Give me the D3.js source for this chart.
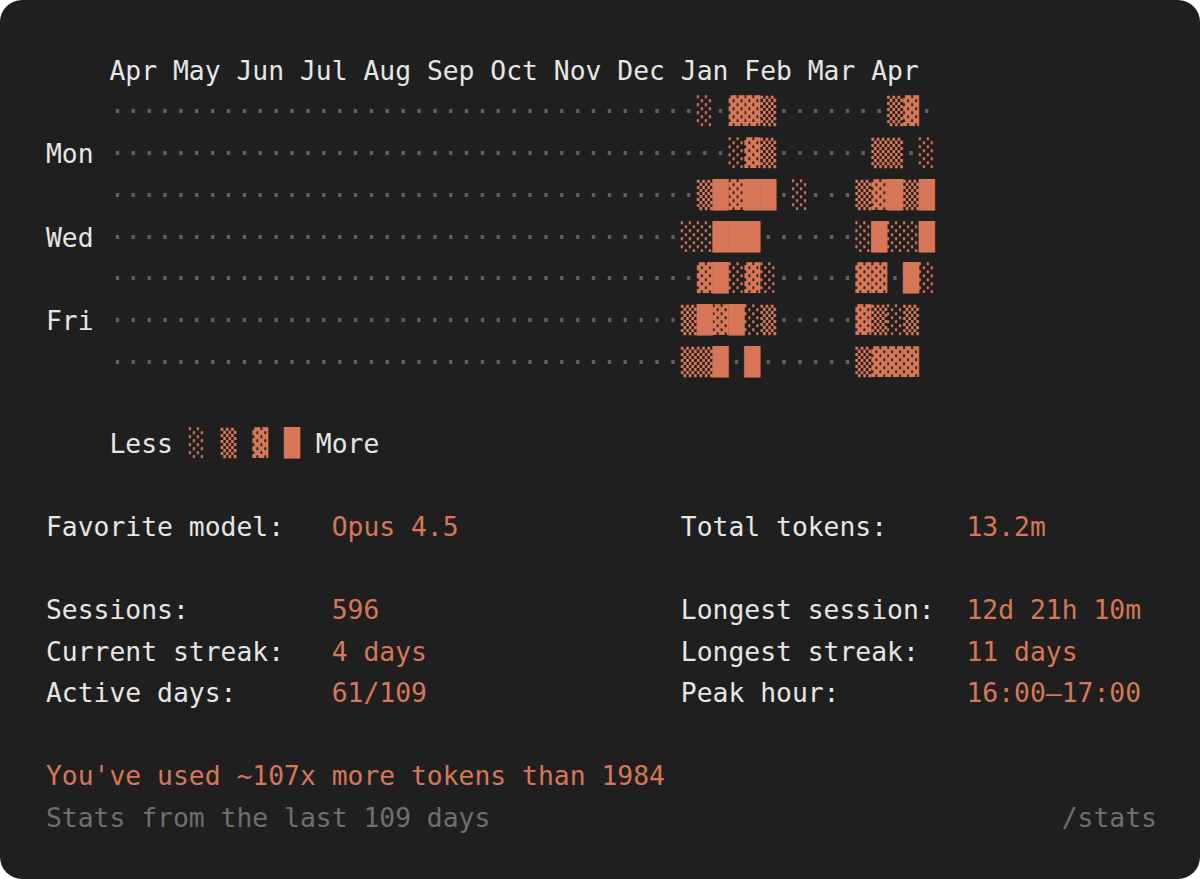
<!DOCTYPE html>
<html><head><meta charset="utf-8">
<script src="https://cdn.jsdelivr.net/npm/d3@7"></script>
<style>
html,body{margin:0;padding:0;background:#ffffff;}
svg{display:block;}
text{font-family:"DejaVu Sans Mono",monospace;white-space:pre;}
</style></head>
<body>
<svg id="chart" width="1200" height="879"></svg>
<script>
// ---- data ----
const months = ["Apr","May","Jun","Jul","Aug","Sep","Oct","Nov","Dec","Jan","Feb","Mar","Apr"];
const dayLabels = ["", "Mon", "", "Wed", "", "Fri", ""];
// activity level per week (52 columns), one string per weekday row
// 0 = none (·), 1 = ░, 2 = ▒, 3 = ▓, 4 = █, "-" = no day yet
const Z35 = "0000000000" + "0000000000" + "0000000000" + "00000";
const activityRows = [
  Z35 + "00103320000000230",
  Z35 + "00001320000002201",
  Z35 + "00243440100023424",
  Z35 + "01144400000014114",
  Z35 + "00341310000033041",
  Z35 + "0243412000003212-",
  Z35 + "0224040000002333-"
];
const levelGlyphs = ["·", "░", "▒", "▓", "█"];
const legendLabels = ["Less", "More"];
const statsLeft = [
  {line: 11, label: "Favorite model:", value: "Opus 4.5"},
  {line: 13, label: "Sessions:", value: "596"},
  {line: 14, label: "Current streak:", value: "4 days"},
  {line: 15, label: "Active days:", value: "61/109"}
];
const statsRight = [
  {line: 11, label: "Total tokens:", value: "13.2m"},
  {line: 13, label: "Longest session:", value: "12d 21h 10m"},
  {line: 14, label: "Longest streak:", value: "11 days"},
  {line: 15, label: "Peak hour:", value: "16:00–17:00"}
];
const funFact = "You've used ~107x more tokens than 1984";
const footerLeft = "Stats from the last 109 days";
const footerRight = "/stats";

// ---- layout ----
const W = 1200, H = 879;
const cw = 15.87;                 // monospace cell width
const fontSize = cw / 0.602;
const COLS = 70;
const colX = d3.scaleLinear().domain([0, COLS]).range([46, 46 + COLS * cw]);
const lineY = d3.scaleLinear().domain([0, 18]).range([70, 817]);
const rowY = d3.scaleLinear().domain([0, 6]).range([111.5, 362.5]);
const textOff = 9.5, glyphOff = 8.5;

const C = {bg:"#1f1f1f", text:"#e6e6e6", accent:"#d77757", dim:"#626262", muted:"#6f6f6f"};

const svg = d3.select("#chart");
svg.append("rect").attr("width", W).attr("height", H).attr("rx", 22).attr("fill", C.bg);

const g = svg.append("g").style("font-size", fontSize + "px");

function txt(col, line, s, color, anchor) {
  return g.append("text")
    .attr("x", colX(col)).attr("y", lineY(line) + textOff)
    .attr("fill", color).attr("text-anchor", anchor || "start")
    .text(s);
}

// month header
g.selectAll("text.month").data(months).join("text")
  .attr("class", "month")
  .attr("x", (d, i) => colX(4 + i * 4))
  .attr("y", lineY(0) + textOff)
  .attr("fill", C.text)
  .text(d => d);

// weekday labels
g.selectAll("text.day").data(dayLabels).join("text")
  .attr("class", "day")
  .attr("x", colX(0))
  .attr("y", (d, i) => rowY(i) + textOff)
  .attr("fill", C.text)
  .text(d => d);

// heatmap cells
const cells = [];
activityRows.forEach((row, r) => {
  row.split("").forEach((ch, w) => {
    if (ch !== "-") cells.push({row: r, week: w, level: +ch});
  });
});
g.selectAll("text.cell").data(cells).join("text")
  .attr("class", "cell")
  .attr("x", d => colX(4 + d.week))
  .attr("y", d => rowY(d.row) + glyphOff)
  .attr("fill", d => d.level === 0 ? C.dim : C.accent)
  .text(d => levelGlyphs[d.level]);

// legend
txt(4, 9, legendLabels[0], C.text);
[1, 2, 3, 4].forEach((lv, i) => {
  g.append("text").attr("x", colX(9 + i * 2)).attr("y", lineY(9) + glyphOff)
    .attr("fill", C.accent).text(levelGlyphs[lv]);
});
txt(17, 9, legendLabels[1], C.text);

// stats
statsLeft.forEach(d => { txt(0, d.line, d.label, C.text); txt(18, d.line, d.value, C.accent); });
statsRight.forEach(d => { txt(40, d.line, d.label, C.text); txt(58, d.line, d.value, C.accent); });

// footer
txt(0, 17, funFact, C.accent);
txt(0, 18, footerLeft, C.muted);
txt(COLS, 18, footerRight, C.muted, "end");
</script>
</body></html>
